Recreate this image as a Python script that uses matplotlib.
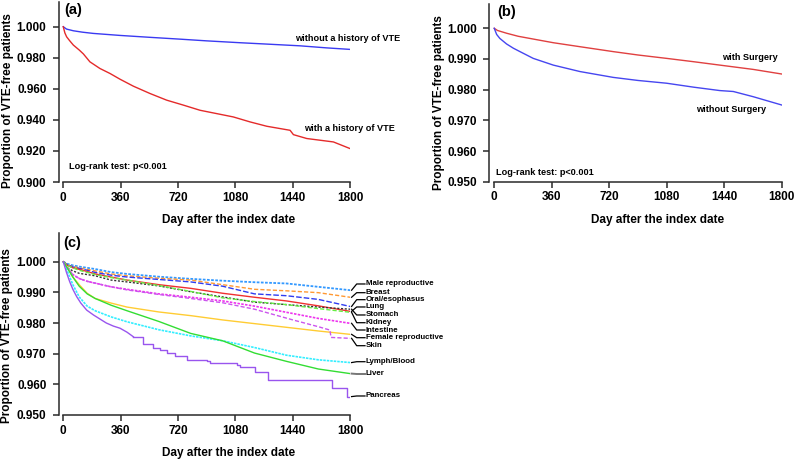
"""Cumulative VTE-free proportion: (a) by VTE history, (b) by surgery, (c) by primary cancer site."""
import numpy as np
import matplotlib
matplotlib.use("Agg")
import matplotlib.pyplot as plt

plt.rcParams.update({"font.family": ["Liberation Sans", "DejaVu Sans"], "font.weight": "bold",
                     "axes.labelweight": "bold", "figure.dpi": 100})

x_ticks = [0, 360, 720, 1080, 1440, 1800]

# ---- (a) history of VTE ----
a_days_hist = [0, 10, 21, 40, 63, 100, 126, 167, 230, 293, 356, 440, 544, 649, 754, 858,
               1067, 1172, 1277, 1423, 1444, 1528, 1695, 1800]
a_surv_hist = [1.0, 0.996, 0.9935, 0.991, 0.9882, 0.985, 0.9825, 0.9774, 0.9731, 0.9699, 0.9662,
               0.9617, 0.957, 0.9527, 0.9495, 0.9462, 0.9419, 0.9387, 0.9359, 0.9333, 0.9305,
               0.928, 0.9258, 0.9215]
a_days_nohist = [0, 20, 63, 120, 188, 356, 540, 733, 900, 1109, 1300, 1486, 1650, 1800]
a_surv_nohist = [1.0, 0.9985, 0.9974, 0.9965, 0.9957, 0.9944, 0.9932, 0.992, 0.9909, 0.9897,
                 0.9887, 0.9877, 0.9864, 0.9854]

# ---- (b) surgery ----
b_days_surg = [0, 20, 77, 150, 244, 370, 537, 745, 900, 1079, 1250, 1413, 1622, 1800]
b_surv_surg = [1.0, 0.9993, 0.9984, 0.9974, 0.9965, 0.9953, 0.994, 0.9924, 0.9913, 0.9902,
               0.9891, 0.988, 0.9866, 0.9851]
b_days_nosurg = [0, 15, 35, 77, 120, 161, 244, 370, 537, 745, 900, 1079, 1250, 1413, 1497,
                 1622, 1800]
b_surv_nosurg = [1.0, 0.998, 0.9967, 0.9949, 0.9935, 0.9924, 0.9902, 0.988, 0.9859, 0.984,
                 0.983, 0.9821, 0.9808, 0.9797, 0.9794, 0.9777, 0.975]

# ---- (c) cancer site ----
c_days = [0, 25, 60, 100, 150, 200, 300, 400, 600, 800, 1000, 1200, 1400, 1600, 1800]
male_repro = [1.0, 0.9993, 0.9988, 0.9984, 0.998, 0.9976, 0.9966, 0.996, 0.9951, 0.9944,
              0.9938, 0.9933, 0.9929, 0.9918, 0.9907]
breast = [1.0, 0.999, 0.9984, 0.998, 0.9975, 0.997, 0.996, 0.9954, 0.9946, 0.994, 0.9925,
          0.991, 0.9905, 0.9899, 0.9884]
oral = [1.0, 0.999, 0.9983, 0.9978, 0.9972, 0.9965, 0.9956, 0.995, 0.9942, 0.9934, 0.992,
        0.9895, 0.9889, 0.9877, 0.9854]
lung = [1.0, 0.9988, 0.998, 0.9975, 0.9968, 0.996, 0.995, 0.994, 0.9925, 0.9913, 0.9897,
        0.9884, 0.9872, 0.9856, 0.9838]
stomach = [1.0, 0.998, 0.997, 0.9962, 0.9958, 0.9954, 0.994, 0.9934, 0.9921, 0.9902, 0.9885,
           0.9868, 0.986, 0.9852, 0.9845]
kidney = [1.0, 0.9988, 0.998, 0.9972, 0.9965, 0.9958, 0.9948, 0.994, 0.9922, 0.9903, 0.9882,
          0.987, 0.986, 0.9847, 0.9835]
intestine = [1.0, 0.998, 0.9958, 0.9945, 0.9936, 0.993, 0.9918, 0.991, 0.9895, 0.9884, 0.9872,
             0.9855, 0.9835, 0.9815, 0.9799]
female_repro = [1.0, 0.998, 0.995, 0.9925, 0.9897, 0.988, 0.9865, 0.9852, 0.9836, 0.9824,
                0.981, 0.9798, 0.9786, 0.9774, 0.9763]
lymph = [1.0, 0.997, 0.9925, 0.9885, 0.9855, 0.984, 0.982, 0.9804, 0.9778, 0.9758, 0.9742,
         0.972, 0.9695, 0.968, 0.9671]
liver = [1.0, 0.998, 0.995, 0.992, 0.9895, 0.988, 0.9858, 0.984, 0.9805, 0.9766, 0.9742,
         0.9702, 0.9675, 0.965, 0.9635]
skin_days = [0, 25, 60, 100, 150, 200, 300, 400, 600, 800, 1000, 1200, 1441, 1600, 1673,
             1680, 1800]
skin = [1.0, 0.998, 0.9958, 0.9945, 0.9936, 0.993, 0.9918, 0.9908, 0.9893, 0.988, 0.9866,
        0.9845, 0.981, 0.9788, 0.9777, 0.9753, 0.975]
pancreas_days = [0, 20, 40, 60, 84, 110, 147, 190, 230, 270, 314, 356, 400, 440, 502, 565,
                 608, 650, 700, 774, 900, 921, 1088, 1109, 1193, 1203, 1287, 1685, 1779, 1800]
pancreas = [1.0, 0.9965, 0.9935, 0.991, 0.9886, 0.9865, 0.9842, 0.9826, 0.9813, 0.98, 0.979,
            0.9783, 0.977, 0.9755, 0.9732, 0.972, 0.9712, 0.9703, 0.9692, 0.968, 0.9676,
            0.9668, 0.9664, 0.9658, 0.9655, 0.9641, 0.9614, 0.9588, 0.956, 0.956]

site_names = ["Male reproductive", "Breast", "Oral/esophasus", "Lung", "Stomach", "Kidney",
              "Intestine", "Female reproductive", "Skin", "Lymph/Blood", "Liver", "Pancreas"]
# where each site label sits (y, in data units) at the right of panel (c)
label_y = [0.99273, 0.98989, 0.98761, 0.98523, 0.98262, 0.9801, 0.97772, 0.97521, 0.9726,
           0.96738, 0.96337, 0.9562]

INK = "#2a2a2a"


def style(ax, ylo, yhi, step, xlo):
    ax.set_xlim(xlo, 1800)
    ax.set_ylim(ylo, yhi)
    ax.set_xticks(x_ticks)
    ax.set_yticks(np.round(np.arange(ylo, 1.0 + step / 2, step), 3))
    ax.yaxis.set_major_formatter(matplotlib.ticker.FormatStrFormatter("%.3f"))
    for s in ("top", "right"):
        ax.spines[s].set_visible(False)
    for s in ("left", "bottom"):
        ax.spines[s].set_linewidth(1.1)
        ax.spines[s].set_color(INK)
    ax.spines["bottom"].set_bounds(0, 1800)
    ax.tick_params(direction="out", length=4, width=1.1, color=INK, labelsize=8.5)
    ax.tick_params(axis="y", pad=5)
    ax.tick_params(axis="x", pad=3)
    for t in ax.get_xticklabels() + ax.get_yticklabels():
        t.set_fontweight("bold")
    ax.set_xlabel("Day after the index date", fontsize=8.5, fontweight="bold")
    ax.set_ylabel("Proportion of VTE-free patients", fontsize=8.5, fontweight="bold")


fig = plt.figure(figsize=(7.96, 4.61))

# (a)
axA = fig.add_axes([0.0741, 0.6052, 0.3658, 0.3907])
axA.plot(a_days_nohist, a_surv_nohist, color="#3a3af2", lw=1.0)
axA.plot(a_days_hist, a_surv_hist, color="#e42a2a", lw=1.0)
style(axA, 0.900, 1.016, 0.02, -27)
axA.text(1454, 0.9927, "without a history of VTE", fontsize=6.6, va="center")
axA.text(1510, 0.9344, "with a history of VTE", fontsize=6.6, va="center")
axA.text(36, 0.9101, "Log-rank test: p<0.001", fontsize=6.6, va="center")
axA.text(0.017, 0.955, "(a)", transform=axA.transAxes, fontsize=10.5, va="center")
axA.xaxis.set_label_coords(0.581, -0.178)
axA.yaxis.set_label_coords(-0.155, 0.45)

# (b)
axB = fig.add_axes([0.6147, 0.6059, 0.3673, 0.3846])
axB.plot(b_days_surg, b_surv_surg, color="#e04040", lw=1.0)
axB.plot(b_days_nosurg, b_surv_nosurg, color="#4646f0", lw=1.0)
style(axB, 0.950, 1.0078, 0.01, -31)
axB.text(1424, 0.99055, "with Surgery", fontsize=6.6, va="center")
axB.text(1263, 0.97337, "without Surgery", fontsize=6.6, va="center")
axB.text(11, 0.95293, "Log-rank test: p<0.001", fontsize=6.6, va="center")
axB.text(0.026, 0.959, "(b)", transform=axB.transAxes, fontsize=10.5, va="center")
axB.xaxis.set_label_coords(0.577, -0.182)
axB.yaxis.set_label_coords(-0.152, 0.444)

# (c)
axC = fig.add_axes([0.0741, 0.0998, 0.3658, 0.3944])
series = [
    (c_days, male_repro, "#3399ff", (0, (1.5, 0.8)), 1.3),
    (c_days, breast, "#ff9933", (0, (3, 1.5)), 1.0),
    (c_days, oral, "#2f3cf0", (0, (4, 1.5)), 1.0),
    (c_days, lung, "#f03030", "-", 1.0),
    (c_days, stomach, "#333333", (0, (1.5, 1.2)), 1.0),
    (c_days, kidney, "#66ee44", (0, (3, 1.5)), 1.0),
    (c_days, intestine, "#ee33ee", (0, (1.5, 0.8)), 1.2),
    (c_days, female_repro, "#ffcc33", "-", 1.0),
    (skin_days, skin, "#cc55ee", (0, (3, 1.5)), 1.0),
    (c_days, lymph, "#33eeff", (0, (1.5, 0.6)), 1.2),
    (c_days, liver, "#33dd33", "-", 1.0),
]
for d, v, col, ls, lw in series:
    axC.plot(d, v, color=col, ls=ls, lw=lw)
# pancreas: dense early events drawn as a line, sparse later events as steps
k = pancreas_days.index(440)
axC.plot(pancreas_days[:k + 1], pancreas[:k + 1], color="#9955ee", lw=1.0)
axC.plot(pancreas_days[k:], pancreas[k:], color="#9955ee", lw=1.0, drawstyle="steps-post")
style(axC, 0.950, 1.0093, 0.01, -27)
axC.text(0.013, 0.946, "(c)", transform=axC.transAxes, fontsize=10.5, va="center")
axC.xaxis.set_label_coords(0.581, -0.174)
axC.yaxis.set_label_coords(-0.157, 0.435)

end_vals = [s[1][-1] for s in series] + [pancreas[-1]]
for name, ly, ve in zip(site_names, label_y, end_vals):
    col = "#777777" if name == "Liver" else "black"
    axC.plot([1809, 1841, 1893], [ve, ly, ly], color=col, lw=0.9 if col == "black" else 1.4,
             clip_on=False)
    axC.text(1899, ly, name, fontsize=5.7, va="center")

fig.savefig("out.png", dpi=100)
